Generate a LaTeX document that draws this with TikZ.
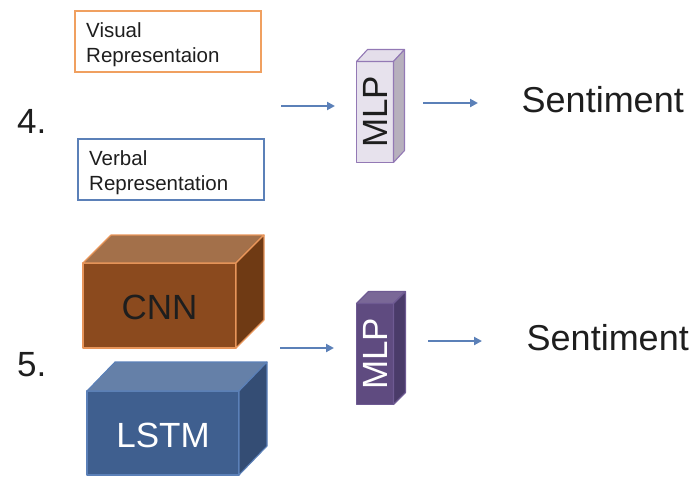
\documentclass[tikz,border=0pt]{standalone}
\usepackage{fontspec}
\setmainfont{Liberation Sans}
\usetikzlibrary{arrows.meta,calc}
\definecolor{arrowblue}{HTML}{5B80B8}
\definecolor{textdark}{HTML}{1E1E1E}
\definecolor{visorange}{HTML}{F0A060}
\definecolor{verblue}{HTML}{5B80B8}
\definecolor{mlpAfront}{HTML}{E7E2ED}
\definecolor{mlpAtop}{HTML}{E4DEEA}
\definecolor{mlpAside}{HTML}{B7B0BD}
\definecolor{mlpAline}{HTML}{9379B5}
\definecolor{mlpBfront}{HTML}{5F4B80}
\definecolor{mlpBtop}{HTML}{7A6897}
\definecolor{mlpBside}{HTML}{4A3B69}
\definecolor{mlpBline}{HTML}{6E5A92}
\definecolor{cnnfront}{HTML}{8B4A1E}
\definecolor{cnntop}{HTML}{A3704A}
\definecolor{cnnside}{HTML}{6F3A14}
\definecolor{cnnline}{HTML}{E8955A}
\definecolor{lstmfront}{HTML}{3F5F8F}
\definecolor{lstmtop}{HTML}{6580A8}
\definecolor{lstmside}{HTML}{344D74}
\definecolor{lstmline}{HTML}{5B80B8}
\tikzset{
  arr/.style={draw=arrowblue, line width=2.4pt, -{Triangle[length=8pt,width=8pt]}},
  bigtxt/.style={font=\fontsize{35}{40}\selectfont, text=textdark, inner sep=0pt},
  senttxt/.style={font=\fontsize{36}{40}\selectfont, text=textdark, inner sep=0pt},
  smalltxt/.style={font=\fontsize{20.5}{25}\selectfont, text=textdark, inner sep=0pt, align=left},
  repbox/.style={draw, line width=2pt, minimum width=186pt, minimum height=61pt, inner sep=0pt, outer sep=0pt},
  face/.style={line width=1.1pt, line join=round, inner sep=0pt, outer sep=0pt},
}
\begin{document}
\begin{tikzpicture}[x=1pt,y=-1pt]
\useasboundingbox (0,0) rectangle (700,480);

% ---- section 4 ----
\node[bigtxt, anchor=base west] (num4) at (17,133) {4.};
\node[repbox, draw=visorange] (vis) at (168,41.5) {};
\node[smalltxt, anchor=north west] (vist) at (86,22) {Visual\\Representaion};
\node[repbox, draw=verblue] (verb) at (171,169.5) {};
\node[smalltxt, anchor=north west] (verbt) at (89,150) {Verbal\\Representation};

\coordinate (a1s) at (281,106);
\coordinate (a1e) at (335,106);
\draw[arr] (a1s) -- (a1e);

\node[face, draw=mlpAline, fill=mlpAfront, minimum width=37pt, minimum height=101pt] (mlpA) at (375,112) {};
\draw[face, draw=mlpAline, fill=mlpAtop] (mlpA.north west) -- ++(11,-12) -- ($(mlpA.north east)+(11,-12)$) -- (mlpA.north east) -- cycle;
\draw[face, draw=mlpAline, fill=mlpAside] (mlpA.north east) -- ++(11,-12) -- ($(mlpA.south east)+(11,-12)$) -- (mlpA.south east) -- cycle;
\node[bigtxt, rotate=90] (mlpAt) at (mlpA.center) {MLP};

\coordinate (a2s) at (423,103);
\coordinate (a2e) at (478,103);
\draw[arr] (a2s) -- (a2e);

\node[senttxt, anchor=base west] (sentA) at (521.5,112) {Sentiment};

% ---- section 5 ----
\node[bigtxt, anchor=base west] (num5) at (17,376) {5.};

\node[face, draw=cnnline, fill=cnnfront, minimum width=153pt, minimum height=85pt] (cnn) at (159.5,305.5) {};
\draw[face, draw=cnnline, fill=cnntop] (cnn.north west) -- ++(28,-28) -- ($(cnn.north east)+(28,-28)$) -- (cnn.north east) -- cycle;
\draw[face, draw=cnnline, fill=cnnside] (cnn.north east) -- ++(28,-28) -- ($(cnn.south east)+(28,-28)$) -- (cnn.south east) -- cycle;
\node[bigtxt, text=textdark] (cnnt) at ($(cnn.center)+(0,2)$) {CNN};

\node[face, draw=lstmline, fill=lstmfront, minimum width=152pt, minimum height=84pt] (lstm) at (163,433) {};
\draw[face, draw=lstmline, fill=lstmtop] (lstm.north west) -- ++(28,-29) -- ($(lstm.north east)+(28,-29)$) -- (lstm.north east) -- cycle;
\draw[face, draw=lstmline, fill=lstmside] (lstm.north east) -- ++(28,-29) -- ($(lstm.south east)+(28,-29)$) -- (lstm.south east) -- cycle;
\node[bigtxt, text=white] (lstmt) at ($(lstm.center)+(0,2)$) {LSTM};

\coordinate (a3s) at (280,348);
\coordinate (a3e) at (334,348);
\draw[arr] (a3s) -- (a3e);

\node[face, draw=mlpBline, fill=mlpBfront, minimum width=37pt, minimum height=101pt] (mlpB) at (375,354) {};
\draw[face, draw=mlpBline, fill=mlpBtop] (mlpB.north west) -- ++(12,-12) -- ($(mlpB.north east)+(12,-12)$) -- (mlpB.north east) -- cycle;
\draw[face, draw=mlpBline, fill=mlpBside] (mlpB.north east) -- ++(12,-12) -- ($(mlpB.south east)+(12,-12)$) -- (mlpB.south east) -- cycle;
\node[bigtxt, text=white, rotate=90] (mlpBt) at (mlpB.center) {MLP};

\coordinate (a4s) at (428,341);
\coordinate (a4e) at (482,341);
\draw[arr] (a4s) -- (a4e);

\node[senttxt, anchor=base west] (sentB) at (526.5,350) {Sentiment};
\end{tikzpicture}
\end{document}
